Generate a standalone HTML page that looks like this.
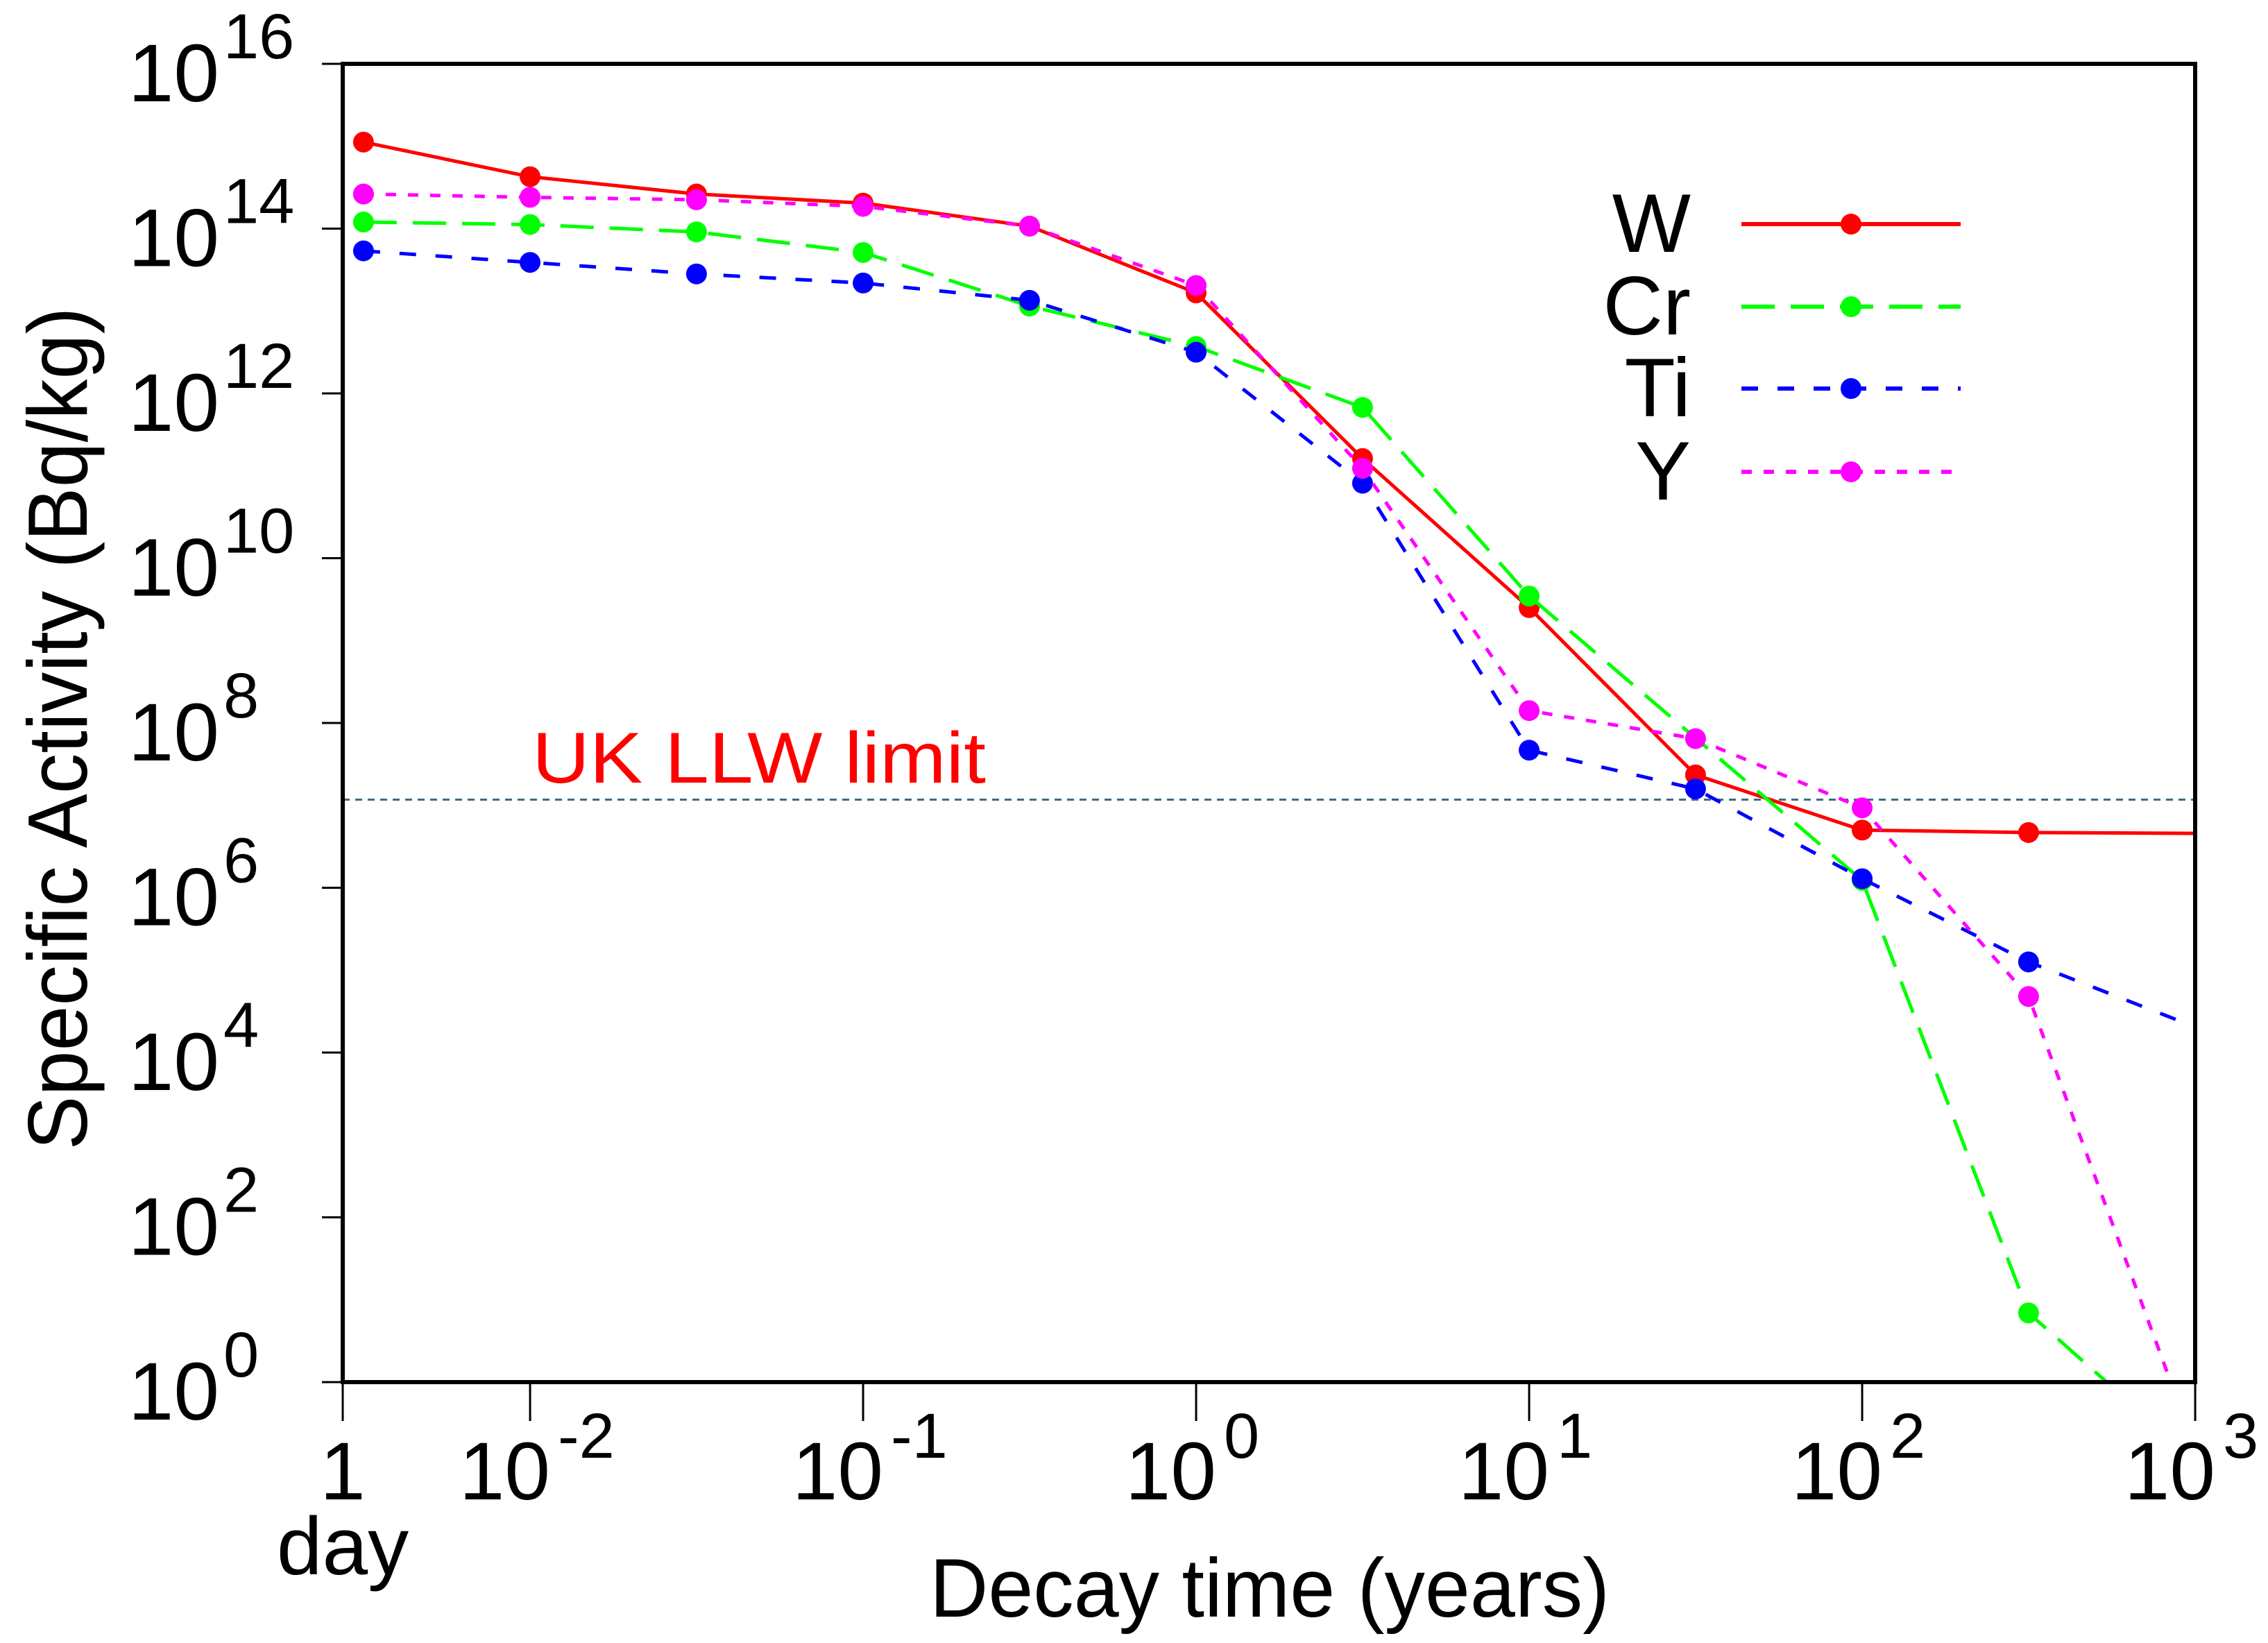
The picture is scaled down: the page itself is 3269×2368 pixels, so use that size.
<!DOCTYPE html>
<html><head><meta charset="utf-8"><style>
html,body{margin:0;padding:0;background:#fff}
svg{display:block}
text{font-family:"Liberation Sans",sans-serif;fill:#000}
</style></head><body>
<svg id="chart" width="3269" height="2368" viewBox="0 0 3269 2368" xmlns="http://www.w3.org/2000/svg">
<g id="grid"></g>
<g id="series"></g>
<g id="axes"></g>
<g id="legend"></g>
</svg>
<script>
const times = [0.00316, 0.01, 0.0316, 0.1, 0.316, 1, 3.16, 10, 31.6, 100, 316, 1000];
const W  = [15.05, 14.63, 14.42, 14.31, 14.03, 13.22, 11.21, 9.40, 7.37, 6.70, 6.67, 6.66];
const Cr = [14.08, 14.05, 13.96, 13.71, 13.06, 12.57, 11.83, 9.54, null, 6.09, 0.84, -0.95];
const Ti = [13.73, 13.59, 13.45, 13.34, 13.13, 12.50, 10.91, 7.67, 7.20, 6.11, 5.10, 4.31];
const Yv = [14.42, 14.38, 14.35, 14.27, 14.03, 13.31, 11.09, 8.15, 7.81, 6.97, 4.68, -0.8];
const markerCount = 11;
const llwLimit = 7.07;
const yTicks = [0, 2, 4, 6, 8, 10, 12, 14, 16];
const xTicks = [-2, -1, 0, 1, 2, 3];
const xMinLog = Math.log10(1/365.25);

const L=494, R=3164, T=92, B=1992;
const decX = 480;
function xs(t){ return L + (Math.log10(t) - xMinLog) * decX; }
function ys(v){ return B - v * (B - T) / 16; }
const NS="http://www.w3.org/2000/svg";
function mk(tag, attrs, parent){ const e=document.createElementNS(NS,tag); for(const k in attrs) e.setAttribute(k, attrs[k]); parent.appendChild(e); return e; }

const svg=document.getElementById('chart');
const defs=mk('defs',{},svg);
const cp=mk('clipPath',{id:'clip'},defs);
mk('rect',{x:L,y:T,width:R-L,height:B-T},cp);

const axes=document.getElementById('axes');
const llw=mk('line',{x1:L,x2:R,y1:ys(llwLimit),y2:ys(llwLimit),stroke:'#3d6b86','stroke-width':3,'stroke-dasharray':'10 8'},document.getElementById('grid'));


const llwT=mk('text',{x:767,y:1128,'font-size':104,fill:'#ff0000',style:'fill:#ff0000',textLength:654,lengthAdjust:'spacingAndGlyphs'},document.getElementById('grid'));
llwT.textContent='UK LLW limit';



const seriesDefs=[
 {name:'W',data:W,color:'#ff0000',dash:''},
 {name:'Cr',data:Cr,color:'#00ff00',dash:'48 23'},
 {name:'Ti',data:Ti,color:'#0000ff',dash:'24 28'},
 {name:'Y',data:Yv,color:'#ff00ff',dash:'15 17'}
];
const sg=document.getElementById('series');
seriesDefs.forEach(s=>{
  const g=mk('g',{'clip-path':'url(#clip)'},sg);
  
  
  let pts=[];
  times.forEach((t,i)=>{ if(s.data[i]!==null) pts.push(xs(t).toFixed(1)+','+ys(s.data[i]).toFixed(1)); });
  const pl=mk('polyline',{points:pts.join(' '),fill:'none',stroke:s.color,'stroke-width':5,'stroke-dasharray':s.dash},g);
  
  
  for(let i=0;i<markerCount;i++){
    if(s.data[i]===null) continue;
    const c=mk('ellipse',{cx:xs(times[i]),cy:ys(s.data[i]),rx:15,ry:15,fill:s.color},g);
    
    
  }
});

const fr=mk('rect',{x:L,y:T,width:R-L,height:B-T,fill:'none',stroke:'#000','stroke-width':6},axes);



yTicks.forEach(v=>{
  const y=ys(v);
  const tk=mk('line',{x1:L-30,x2:L,y1:y,y2:y,stroke:'#000','stroke-width':3},axes);
  
  
  const t=mk('text',{x:316,y:y+54,'font-size':118,'text-anchor':'end'},axes);
  t.textContent='10';
  
  
  const e=mk('text',{x:322,y:y-8,'font-size':92},axes);
  e.textContent=String(v);
  
  
});
const tk0=mk('line',{x1:L,x2:L,y1:B,y2:B+56,stroke:'#000','stroke-width':3},axes);


const one=mk('text',{x:L,y:2161,'font-size':118,'text-anchor':'middle'},axes);
one.textContent='1';


const day=mk('text',{x:L,y:2269,'font-size':118,'text-anchor':'middle'},axes);
day.textContent='day';


xTicks.forEach(p=>{
  const x=xs(Math.pow(10,p));
  const tk=mk('line',{x1:x,x2:x,y1:B,y2:B+56,stroke:'#000','stroke-width':3},axes);
  
  
  const t=mk('text',{x:x+29,y:2161,'font-size':118,'text-anchor':'end'},axes);
  t.textContent='10';
  
  
  const e=mk('text',{x:x+40,y:2101,'font-size':92},axes);
  e.textContent=String(p);
  
  
});
const xt=mk('text',{x:1830,y:2330,'font-size':120,'text-anchor':'middle',textLength:980,lengthAdjust:'spacingAndGlyphs'},axes);
xt.textContent='Decay time (years)';


const yt=mk('text',{x:0,y:0,'font-size':122,'text-anchor':'middle',transform:'translate(125,1050) rotate(-90)',textLength:1215,lengthAdjust:'spacingAndGlyphs'},axes);
yt.textContent='Specific Activity (Bq/kg)';



const lg=document.getElementById('legend');
const rows=[323,442,560,680];
seriesDefs.forEach((s,i)=>{
  const g=mk('g',{},lg);
  
  
  const t=mk('text',{x:2437,y:rows[i]+40,'font-size':120,'text-anchor':'end'},g);
  t.textContent=s.name;
  
  
  const l=mk('line',{x1:2510,x2:2826,y1:rows[i],y2:rows[i],stroke:s.color,'stroke-width':6,'stroke-dasharray':s.dash},g);
  
  
  const c=mk('ellipse',{cx:2668,cy:rows[i],rx:15,ry:15,fill:s.color},g);
  
  
});
</script>
</body></html>
